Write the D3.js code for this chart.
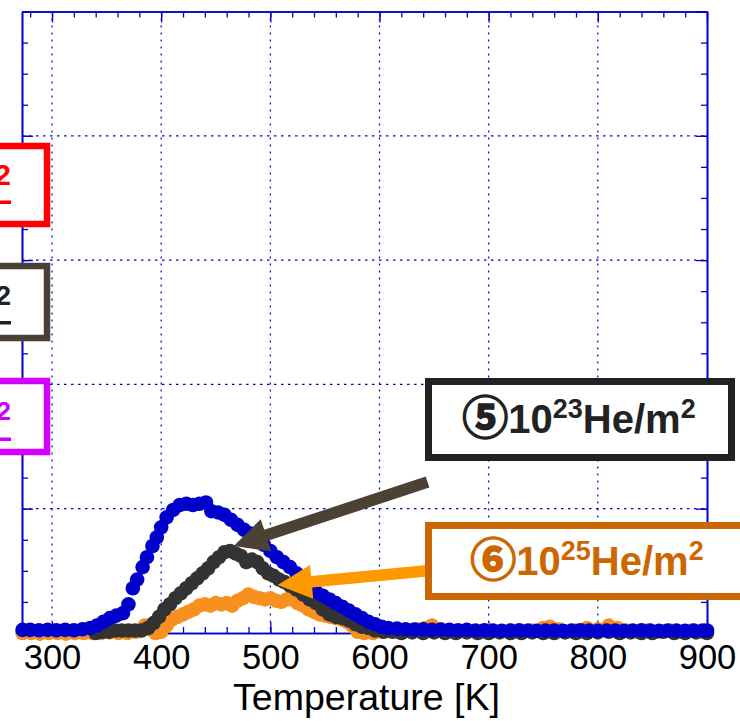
<!DOCTYPE html>
<html><head><meta charset="utf-8">
<script src="https://cdn.jsdelivr.net/npm/d3@7"></script>
<style>
html,body{margin:0;padding:0;background:#fff;}
svg{display:block;}
text{font-family:"Liberation Sans",Arial,sans-serif;}
</style></head>
<body>
<svg id="chart" width="740" height="721"></svg>
<script>
// ---- data (Temperature [K], desorption rate, arbitrary units) ----
const blueT = [273,280,288,296,304,312,320,328,335,341,347,353,359,365,370,374,378,383,387,392,396,400,405,411,417,423,429,435,441,446,452,458,464,470,476,482,488,494,500,506,512,518,524,530,536,542,548,554,560,566,572,578,584,590,596,602,608,616,624,632,640,648,656,664,672,680,688,696,704,712,720,728,736,744,752,760,768,776,784,792,800,808,816,824,832,840,848,856,864,872,880,888,896,900];
const blueV = [0.025,0.025,0.022,0.025,0.022,0.025,0.022,0.03,0.04,0.06,0.09,0.12,0.14,0.16,0.23,0.36,0.43,0.53,0.61,0.70,0.77,0.85,0.93,0.99,1.03,1.04,1.03,1.04,1.05,0.98,0.97,0.95,0.91,0.87,0.83,0.80,0.76,0.71,0.66,0.61,0.57,0.53,0.48,0.44,0.38,0.33,0.30,0.27,0.24,0.21,0.18,0.15,0.12,0.09,0.07,0.05,0.04,0.035,0.03,0.028,0.03,0.025,0.028,0.025,0.022,0.025,0.02,0.022,0.02,0.018,0.02,0.022,0.02,0.018,0.02,0.02,0.018,0.02,0.022,0.02,0.018,0.02,0.02,0.018,0.02,0.022,0.02,0.018,0.02,0.02,0.018,0.02,0.02,0.02];

const darkT = [340,346,352,358,364,370,376,382,388,393,398,403,408,413,418,423,428,433,438,443,448,453,458,463,468,473,478,483,488,493,498,503,508,513,518,524,530,536,542,548,554,560,566,572,578,584,590,596,604,612,620,630,640,650,660,670,680,690,700,710,720,730,740,750,760,770,780,790,800,810,820,830,840,850,860,870,880,890,900];
const darkV = [0.0,0.01,0.01,0.02,0.02,0.02,0.02,0.02,0.04,0.08,0.13,0.19,0.23,0.28,0.32,0.36,0.40,0.44,0.48,0.52,0.57,0.61,0.65,0.66,0.64,0.62,0.57,0.59,0.57,0.52,0.48,0.46,0.43,0.41,0.38,0.35,0.31,0.27,0.24,0.19,0.15,0.13,0.12,0.10,0.07,0.05,0.04,0.02,0.01,0.01,0.0,0.005,0.0,0.005,0.0,0.0,0.005,0.0,0.0,0.005,0.0,0.0,0.005,0.0,0.0,0.005,0.0,0.0,0.005,0.01,0.0,0.005,0.0,0.0,0.01,0.0,0.0,0.005,0.0];

const orangeT = [273,281,289,297,305,313,321,329,337,345,353,361,369,377,385,390,395,400,405,410,415,420,425,430,435,440,445,450,455,460,465,470,475,480,485,490,495,500,505,510,515,520,525,530,535,540,545,550,555,560,565,570,575,580,586,594,602,610,618,626,634,642,648,656,664,672,680,690,700,710,720,730,740,750,756,764,772,780,790,800,810,818,826,836,846,856,866,876,886,896];
const orangeV = [0.0,0.0,-0.005,0.0,0.0,-0.005,0.0,0.0,0.0,0.0,0.005,0.0,0.0,0.01,0.06,0.03,0.0,0.01,0.06,0.11,0.13,0.15,0.17,0.19,0.22,0.23,0.22,0.24,0.23,0.24,0.22,0.26,0.28,0.31,0.29,0.28,0.27,0.28,0.26,0.25,0.27,0.27,0.24,0.22,0.19,0.17,0.15,0.14,0.13,0.12,0.11,0.09,0.06,0.01,0.0,0.0,0.01,0.02,0.01,0.02,0.03,0.04,0.06,0.03,0.02,0.01,0.02,0.01,0.02,0.01,0.02,0.01,0.02,0.04,0.05,0.03,0.01,0.02,0.04,0.03,0.06,0.04,0.02,0.01,0.02,0.01,0.02,0.01,0.02,0.01];

const xMajor = [300,400,500,600,700,800,900];
const xMinor = [280,300,320,340,360,380,400,420,440,460,480,500,520,540,560,580,600,620,640,660,680,700,720,740,760,780,800,820,840,860,880,900];
const yMajor = [0,1,2,3,4,5];
const yMinor = [0,0.25,0.5,0.75,1,1.25,1.5,1.75,2,2.25,2.5,2.75,3,3.25,3.5,3.75,4,4.25,4.5,4.75,5];
const xTitle = "Temperature [K]";

// annotation boxes (label pieces) and arrows (data coords)
const labels = [
  {circ:"⑤", base:"10", exp:"23", unit:"He/m", uexp:"2", color:"#222222"},
  {circ:"⑥", base:"10", exp:"25", unit:"He/m", uexp:"2", color:"#cc6600"}
];
const arrows = [
  {from:[644,1.215], to:[466.5,0.70], color:"#4b4135"},
  {from:[644,0.50], to:[506.8,0.386], color:"#ff9900"}
];
const sideLabels = [
  {text:"2", color:"#ff0000", border:"#ff0000"},
  {text:"2", color:"#222222", border:"#4a4035"},
  {text:"2", color:"#cc00ff", border:"#d400ff"}
];

// ---- drawing ----
const svg = d3.select("#chart");
const x = d3.scaleLinear().domain([272.5, 900]).range([22, 707]);
const y = d3.scaleLinear().domain([0, 5]).range([633, 11.5]);
const AX = "#0000cc";

// grid
const grid = svg.append("g");
grid.selectAll(".gx").data(xMajor.filter(d=>d<900)).join("line")
  .attr("x1",d=>x(d)).attr("x2",d=>x(d)).attr("y1",y(5)).attr("y2",y(0))
  .attr("stroke",AX).attr("stroke-width",1.2).attr("stroke-dasharray","2,5");
grid.selectAll(".gy").data(yMajor.filter(d=>d>0&&d<5)).join("line")
  .attr("x1",x.range()[0]).attr("x2",x.range()[1]).attr("y1",d=>y(d)).attr("y2",d=>y(d))
  .attr("stroke",AX).attr("stroke-width",1.2).attr("stroke-dasharray","2.5,4.5");

function styleAxis(g){
  g.selectAll("path.domain").attr("stroke",AX).attr("stroke-width",1.6);
  g.selectAll(".tick line").attr("stroke",AX).attr("stroke-width",1.3);
}
// minor ticks
svg.append("g").attr("transform",`translate(0,${y(0)})`)
  .call(d3.axisBottom(x).tickValues(xMinor).tickSize(-6).tickSizeOuter(0).tickFormat("")).call(styleAxis);
svg.append("g").attr("transform",`translate(0,${y(5)})`)
  .call(d3.axisTop(x).tickValues(xMinor).tickSize(-6).tickSizeOuter(0).tickFormat("")).call(styleAxis);
svg.append("g").attr("transform",`translate(${x(272.5)},0)`)
  .call(d3.axisLeft(y).tickValues(yMinor).tickSize(-6).tickSizeOuter(0).tickFormat("")).call(styleAxis);
svg.append("g").attr("transform",`translate(${x(900)},0)`)
  .call(d3.axisRight(y).tickValues(yMinor).tickSize(-6).tickSizeOuter(0).tickFormat("")).call(styleAxis);
// major ticks
const xb = svg.append("g").attr("transform",`translate(0,${y(0)})`)
  .call(d3.axisBottom(x).tickValues(xMajor).tickSize(-11).tickSizeOuter(0).tickPadding(12).tickFormat(d3.format("d")));
styleAxis(xb);
xb.selectAll("text").attr("fill","#000").attr("font-size",34.5).attr("font-family","'Liberation Sans',Arial,sans-serif");
svg.append("g").attr("transform",`translate(0,${y(5)})`)
  .call(d3.axisTop(x).tickValues(xMajor).tickSize(-11).tickSizeOuter(0).tickFormat("")).call(styleAxis);
svg.append("g").attr("transform",`translate(${x(272.5)},0)`)
  .call(d3.axisLeft(y).tickValues(yMajor).tickSize(-11).tickSizeOuter(0).tickFormat("")).call(styleAxis);
svg.append("g").attr("transform",`translate(${x(900)},0)`)
  .call(d3.axisRight(y).tickValues(yMajor).tickSize(-11).tickSizeOuter(0).tickFormat("")).call(styleAxis);

// x title
svg.append("text").attr("x",(x.range()[0]+x.range()[1])/2+2).attr("y",710)
  .attr("text-anchor","middle").attr("font-size",37.5).attr("fill","#000").text(xTitle);

// series
function dots(T,V,color){
  svg.append("g").selectAll("circle").data(T.map((t,i)=>[t,V[i]])).join("circle")
    .attr("cx",d=>x(d[0])).attr("cy",d=>y(d[1])).attr("r",7.3).attr("fill",color);
}
dots(orangeT,orangeV,"#f7901e");
dots(darkT,darkV,"#333333");
dots(blueT,blueV,"#0000cc");

// arrows
arrows.forEach(a=>{
  const x0=x(a.from[0]), y0=y(a.from[1]), x1=x(a.to[0]), y1=y(a.to[1]);
  const L=Math.hypot(x0-x1,y0-y1), ux=(x0-x1)/L, uy=(y0-y1)/L, px=-uy, py=ux;
  const hl=34, hw=17, sw=5.8;
  const bx=x1+ux*hl, by=y1+uy*hl;
  const pts=[[x1,y1],[bx+px*hw,by+py*hw],[bx+px*sw,by+py*sw],[x0+px*sw,y0+py*sw],
             [x0-px*sw,y0-py*sw],[bx-px*sw,by-py*sw],[bx-px*hw,by-py*hw]];
  svg.append("polygon").attr("points",pts.map(p=>p.join(",")).join(" ")).attr("fill",a.color);
});

// left (cropped) legend boxes
const sideBoxes = [{y:146,h:78,ty:185,fs:30,uy:200.5},{y:266,h:72,ty:305,fs:28,uy:321},{y:381,h:71,ty:420,fs:26,uy:437.5}];
sideLabels.forEach((s,i)=>{
  const b=sideBoxes[i];
  svg.append("rect").attr("x",-100).attr("y",b.y).attr("width",147).attr("height",b.h)
    .attr("fill","#fff").attr("stroke",s.border).attr("stroke-width",6.5);
  svg.append("text").attr("x",11).attr("y",b.ty).attr("text-anchor","end")
    .attr("font-size",b.fs).attr("font-weight","bold").attr("fill",s.color).text(s.text);
  svg.append("rect").attr("x",-10).attr("y",b.uy).attr("width",21).attr("height",3.5).attr("fill",s.color);
});

// right label boxes
const boxes = [{x:428.5,y:381.5,w:303,h:76,tx:579,ty:433},{x:428.5,y:525.5,w:330,h:71,tx:587,ty:575}];
labels.forEach((l,i)=>{
  const b=boxes[i];
  svg.append("rect").attr("x",b.x).attr("y",b.y).attr("width",b.w).attr("height",b.h)
    .attr("fill","#fff").attr("stroke",l.color).attr("stroke-width",7);
  const t=svg.append("text").attr("x",b.tx).attr("y",b.ty).attr("text-anchor","middle")
    .attr("font-size",40).attr("font-weight","bold").attr("fill",l.color);
  t.append("tspan").attr("font-family","'Noto Sans CJK JP','Noto Sans CJK SC',sans-serif")
    .attr("font-size",46).attr("stroke",l.color).attr("stroke-width",1.6).attr("dy",1).text(l.circ);
  t.append("tspan").attr("dy",-1).text(l.base);
  t.append("tspan").attr("font-size",27).attr("dy",-15).text(l.exp);
  t.append("tspan").attr("dy",15).text(l.unit);
  t.append("tspan").attr("font-size",27).attr("dy",-15).text(l.uexp);
});
</script>
</body></html>
